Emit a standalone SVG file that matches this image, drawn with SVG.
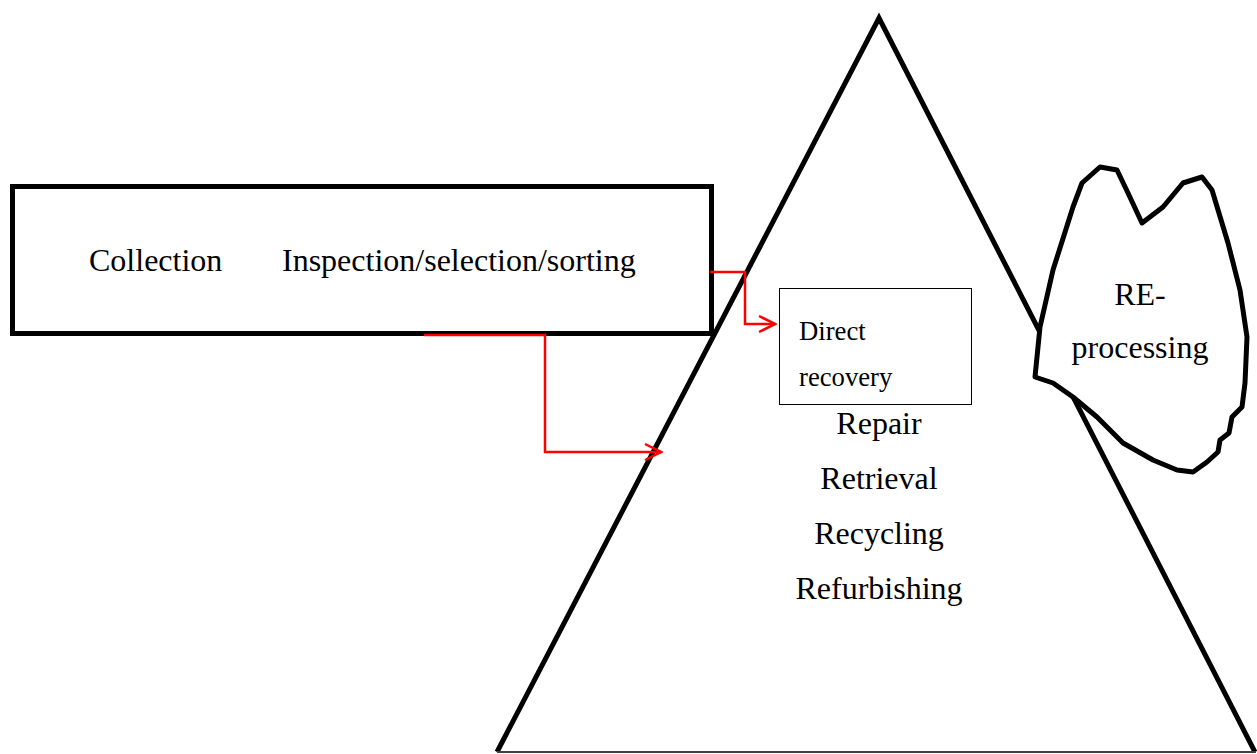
<svg xmlns="http://www.w3.org/2000/svg" width="1257" height="754" viewBox="0 0 1257 754">
<style>
.t{font-family:"Liberation Serif","Times New Roman",serif;fill:#000}
.big{font-size:32px}
.sm{font-size:26.7px}
.thick{fill:#fff;stroke:#000;stroke-width:5}
.red{fill:none;stroke:#f00;stroke-width:2.5}
</style>
<defs>
<marker id="ah" viewBox="0 0 20 20" refX="18" refY="10" markerWidth="20" markerHeight="20" markerUnits="userSpaceOnUse" orient="auto">
<path d="M2,2 L18,10 L2,18" fill="none" stroke="#f00" stroke-width="2.5"/>
</marker>
</defs>
<rect width="1257" height="754" fill="#fff"/>
<g id="pyramid">
<polyline points="497,752 879,18 1255,752" fill="#fff" stroke="#000" stroke-width="5" stroke-linejoin="miter"/>
<line x1="497" y1="752" x2="1256" y2="752" stroke="#404040" stroke-width="2"/>
</g>
<g id="process-box">
<rect x="12.5" y="186.5" width="699" height="147" class="thick"/>
<text class="t big" x="89" y="271">Collection</text>
<text class="t big" x="282" y="271">Inspection/selection/sorting</text>
</g>
<g id="direct-recovery">
<rect x="779.5" y="288.5" width="192" height="116" fill="#fff" stroke="#000" stroke-width="1"/>
<text class="t sm" x="799" y="340">Direct</text>
<text class="t sm" x="799" y="386">recovery</text>
</g>
<g id="options">
<text class="t big" x="879" y="434" text-anchor="middle">Repair</text>
<text class="t big" x="879" y="489" text-anchor="middle">Retrieval</text>
<text class="t big" x="879" y="544" text-anchor="middle">Recycling</text>
<text class="t big" x="879" y="599" text-anchor="middle">Refurbishing</text>
</g>
<g id="reprocessing">
<path class="thick" stroke-linejoin="round" d="M1035,377 L1040,327 L1053,270 L1073,207 L1082,183 L1100,167 L1117,170 L1128,193 L1142,223 L1163,207 L1183,183 L1202,177 L1212,190 L1228,243 L1240,290 L1247,337 L1245,383 L1242,407 L1232,417 L1229,433 L1220,440 L1218,452 L1207,462 L1193,472 L1177,470 L1153,460 L1123,443 L1097,417 L1073,397 L1053,383 Z"/>
<text class="t big" x="1140" y="305" text-anchor="middle">RE-</text>
<text class="t big" x="1140" y="358" text-anchor="middle">processing</text>
</g>
<g id="connectors">
<polyline class="red" points="710,272 745,272 745,324 775,324" marker-end="url(#ah)"/>
<polyline class="red" points="424,335 545,335 545,452 661,452" marker-end="url(#ah)"/>
</g>
</svg>
